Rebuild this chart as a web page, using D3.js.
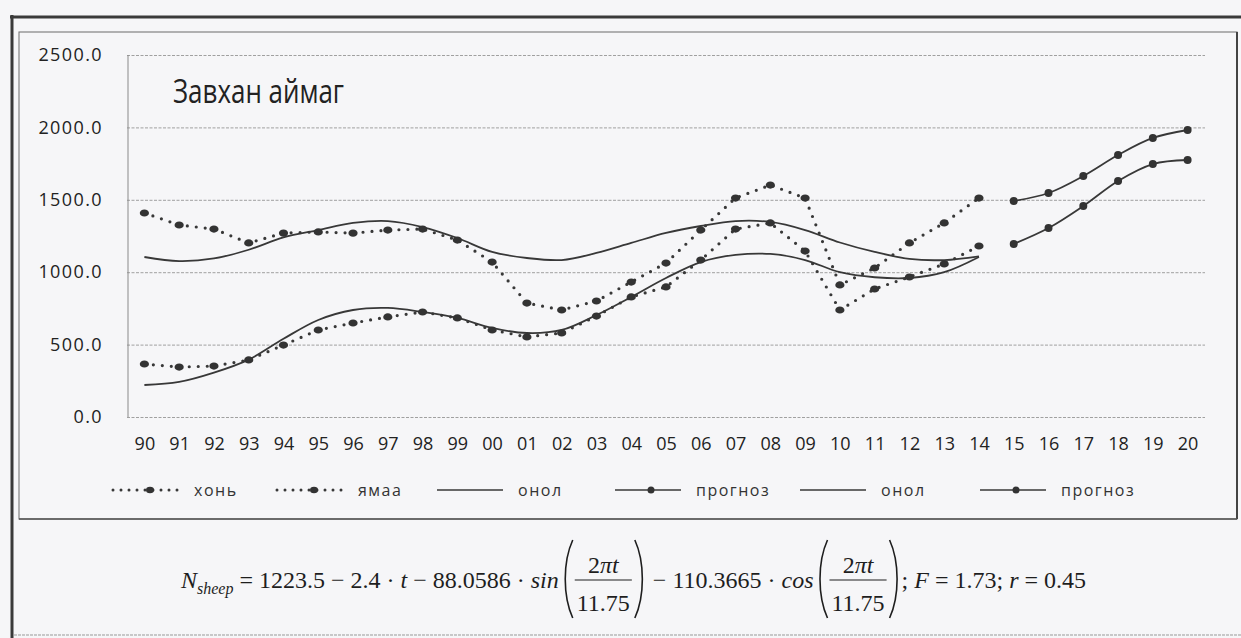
<!DOCTYPE html>
<html>
<head>
<meta charset="utf-8">
<script src="https://cdn.jsdelivr.net/npm/d3@7"></script>
<style>
body { margin: 0; background: #f6f6f8; }
svg { display: block; }
text { white-space: pre; }
</style>
</head>
<body>
<div id="chart"></div>
<script>
// categories (years, two digits)
var years = ["90","91","92","93","94","95","96","97","98","99",
             "00","01","02","03","04","05","06","07","08","09",
             "10","11","12","13","14","15","16","17","18","19","20"];

// observed, 90..14
var honi  = [1409,1326,1298,1202,1270,1278,1270,1291,1298,1222,1070,787,739,801,932,1063,1291,1512,1602,1512,912,1029,1202,1340,1512];
var yamaa = [366,345,352,394,497,601,649,691,725,684,601,553,580,697,829,898,1084,1298,1340,1146,739,884,967,1057,1181];

// model (онол), 90..14
var onolHoni  = [1105,1077,1095,1155,1240,1291,1340,1353,1312,1236,1140,1098,1084,1133,1202,1271,1319,1353,1347,1291,1205,1140,1092,1084,1110];
var onolYamaa = [221,242,306,396,540,670,739,753,725,684,615,580,601,704,829,960,1070,1119,1126,1084,1000,965,960,1000,1105];

// forecast (прогноз), 15..20
var prognozHoni  = [1492,1547,1664,1809,1927,1982];
var prognozYamaa = [1195,1305,1457,1630,1747,1775];

var yTicks = [0, 500, 1000, 1500, 2000, 2500];
var legendNames = ["хонь", "ямаа", "онол", "прогноз", "онол", "прогноз"];
var legendKinds = ["dot", "dot", "line", "lineMark", "line", "lineMark"];
var titleText = "Завхан аймаг";

var W = 1241, H = 638;
var ink = "#383838";
var sans = "'Open Sans', 'Noto Sans', sans-serif";

var svg = d3.select("#chart").append("svg")
  .attr("width", W).attr("height", H);

svg.append("rect").attr("width", W).attr("height", H).attr("fill", "#f6f6f8");

// page frame (scan) and chart box
svg.append("line").attr("x1", 10).attr("x2", W).attr("y1", 17).attr("y2", 17)
  .attr("stroke", "#3a3a3a").attr("stroke-width", 3);
svg.append("line").attr("x1", 12).attr("x2", 12).attr("y1", 15).attr("y2", H)
  .attr("stroke", "#3a3a3a").attr("stroke-width", 3);
svg.append("rect").attr("x", 19).attr("y", 32).attr("width", 1218).attr("height", 487)
  .attr("fill", "none").attr("stroke", "#777").attr("stroke-width", 1.1);
svg.append("line").attr("x1", 1237).attr("x2", 1237).attr("y1", 32).attr("y2", 519)
  .attr("stroke", "#444").attr("stroke-width", 2);
svg.append("line").attr("x1", 19).attr("x2", 1237).attr("y1", 519).attr("y2", 519)
  .attr("stroke", "#555").attr("stroke-width", 1.6);
svg.append("line").attr("x1", 14).attr("x2", W).attr("y1", 635).attr("y2", 635)
  .attr("stroke", "#999").attr("stroke-width", 1).attr("stroke-dasharray", "3,1");

var x = d3.scalePoint().domain(years).range([127, 1205]).padding(0.5);
var y = d3.scaleLinear().domain([0, 2500]).range([417, 55]);

// y axis with gridlines
var yAxis = svg.append("g")
  .attr("transform", "translate(127,0)")
  .call(d3.axisLeft(y).tickValues(yTicks).tickFormat(d3.format(".1f"))
    .tickSize(-(1205 - 127)).tickPadding(24));
yAxis.select(".domain").remove();
yAxis.selectAll(".tick line")
  .attr("stroke", "#a0a0a0").attr("stroke-dasharray", "3,1.5");
yAxis.selectAll(".tick text")
  .attr("font-family", sans).attr("font-size", 18).attr("letter-spacing", 1.4)
  .attr("fill", "#222");

svg.append("line").attr("x1", 128).attr("x2", 128).attr("y1", 55).attr("y2", 417)
  .attr("stroke", "#8a8a8a").attr("stroke-width", 1);

// x axis labels
var xAxis = svg.append("g")
  .attr("transform", "translate(0,417)")
  .call(d3.axisBottom(x).tickSize(0).tickPadding(20));
xAxis.select(".domain").remove();
xAxis.selectAll(".tick text")
  .attr("font-family", sans).attr("font-size", 18).attr("fill", "#222");

// title
svg.append("text").attr("x", 173).attr("y", 103)
  .attr("font-family", sans).attr("font-size", 32)
  .attr("textLength", 171).attr("lengthAdjust", "spacingAndGlyphs")
  .attr("fill", "#222").text(titleText);

function pts(vals, start) {
  return vals.map(function(v, i) { return { k: years[start + i], v: v }; });
}

var straight = d3.line().x(function(d) { return x(d.k); }).y(function(d) { return y(d.v); });
var smooth = d3.line().curve(d3.curveCatmullRom.alpha(0.5))
  .x(function(d) { return x(d.k); }).y(function(d) { return y(d.v); });

var plot = svg.append("g");

function dotted(vals, start) {
  var data = pts(vals, start);
  plot.append("path").datum(data).attr("d", straight)
    .attr("fill", "none").attr("stroke", ink).attr("stroke-width", 3.2)
    .attr("stroke-linecap", "round").attr("stroke-dasharray", "0,9");
  plot.append("g").selectAll("ellipse").data(data).join("ellipse")
    .attr("cx", function(d) { return x(d.k); })
    .attr("cy", function(d) { return y(d.v); })
    .attr("rx", 4.6).attr("ry", 3.6).attr("fill", "#333");
}

function solid(vals, start, marks, curve) {
  var data = pts(vals, start);
  plot.append("path").datum(data).attr("d", curve)
    .attr("fill", "none").attr("stroke", ink).attr("stroke-width", 1.8);
  if (marks) {
    plot.append("g").selectAll("circle").data(data).join("circle")
      .attr("cx", function(d) { return x(d.k); })
      .attr("cy", function(d) { return y(d.v); })
      .attr("r", 4).attr("fill", "#333");
  }
}

solid(onolHoni, 0, false, smooth);
solid(onolYamaa, 0, false, smooth);
dotted(honi, 0);
dotted(yamaa, 0);
solid(prognozHoni, 25, true, smooth);
solid(prognozYamaa, 25, true, smooth);

// legend
var legendX = [113, 277, 437, 615, 800, 980];
var lg = svg.append("g");
legendNames.forEach(function(name, i) {
  var x0 = legendX[i], x1 = x0 + 66, ly = 490;
  var kind = legendKinds[i];
  var ln = lg.append("line").attr("x1", x0).attr("x2", x1).attr("y1", ly).attr("y2", ly)
    .attr("stroke", ink);
  if (kind === "dot") {
    ln.attr("stroke-width", 3).attr("stroke-linecap", "round").attr("stroke-dasharray", "0,8");
    lg.append("ellipse").attr("cx", x0 + 37).attr("cy", ly).attr("rx", 4).attr("ry", 3.2)
      .attr("fill", "#333");
  } else {
    ln.attr("stroke-width", 1.5);
    if (kind === "lineMark") {
      lg.append("circle").attr("cx", x0 + 36).attr("cy", ly).attr("r", 3.5).attr("fill", "#333");
    }
  }
  lg.append("text").attr("x", x1 + 15).attr("y", ly + 6)
    .attr("font-family", sans).attr("font-size", 16).attr("letter-spacing", 1.5)
    .attr("fill", "#333").text(name);
});

// regression formula below the chart
var fs = 24, fy = 588;
var fg = svg.append("g").attr("font-family", "'Liberation Serif', 'DejaVu Serif', serif")
  .attr("fill", "#1e1e1e");
var cx = 0;

function put(s, it, size, dy) {
  var t = fg.append("text").attr("x", cx).attr("y", fy + (dy || 0))
    .attr("font-size", size || fs).attr("font-style", it ? "italic" : "normal").text(s);
  cx += t.node().getComputedTextLength();
}

function paren(px, left) {
  var top = fy - 48, bot = fy + 30;
  var d = left
    ? "M" + (px + 9) + "," + top + " C" + (px - 1) + "," + (top + 22) + " " + (px - 1) + "," + (bot - 22) + " " + (px + 9) + "," + bot
    : "M" + px + "," + top + " C" + (px + 10) + "," + (top + 22) + " " + (px + 10) + "," + (bot - 22) + " " + px + "," + bot;
  fg.append("path").attr("d", d).attr("fill", "none").attr("stroke", "#1e1e1e").attr("stroke-width", 1.6);
}

function frac() {
  paren(cx + 2, true);
  var fx0 = cx + 13;
  var den = fg.append("text").attr("y", fy + 23).attr("font-size", fs).text("11.75");
  var wd = den.node().getComputedTextLength();
  var fw = wd + 4;
  den.attr("x", fx0 + fw / 2).attr("text-anchor", "middle");
  var num = fg.append("text").attr("x", fx0 + fw / 2).attr("y", fy - 15)
    .attr("font-size", fs).attr("text-anchor", "middle");
  num.append("tspan").text("2");
  num.append("tspan").attr("font-style", "italic").text("πt");
  fg.append("line").attr("x1", fx0).attr("x2", fx0 + fw).attr("y1", fy - 8).attr("y2", fy - 8)
    .attr("stroke", "#1e1e1e").attr("stroke-width", 1);
  paren(fx0 + fw + 3, false);
  cx = fx0 + fw + 15;
}

put("N", true);
put("sheep", true, 16, 6);
put(" = 1223.5 − 2.4 · ");
put("t", true);
put(" − 88.0586 · ");
put("sin", true);
cx += 3;
frac();
put(" − 110.3665 · ");
put("cos", true);
cx += 3;
frac();
put("; ");
put("F", true);
put(" = 1.73; ");
put("r", true);
put(" = 0.45");

var bb = fg.node().getBBox();
fg.attr("transform", "translate(" + (180 - bb.x) + ",0)");
</script>
</body>
</html>
